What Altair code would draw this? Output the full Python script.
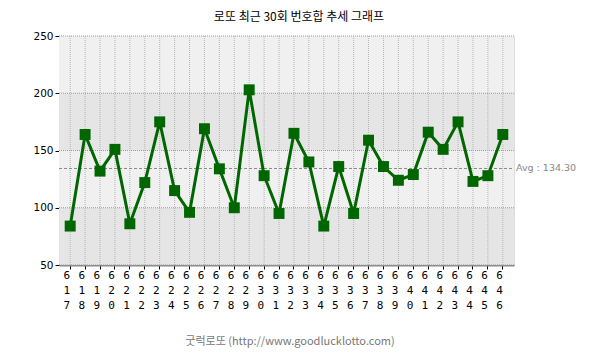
import altair as alt
import pandas as pd

rounds = [str(r) for r in range(617, 647)]
sums = [84, 164, 132, 151, 86, 122, 175, 115, 96, 169, 134, 100, 203, 128, 95,
        165, 140, 84, 136, 95, 159, 136, 124, 129, 166, 151, 175, 123, 128, 164]
band_lo = [200, 150, 100, 50]
band_hi = [250, 200, 150, 100]
band_col = ["#f0f0f0", "#e5e5e5", "#f0f0f0", "#e5e5e5"]
y_ticks = [50, 100, 150, 200, 250]
title_text = "로또 최근 30회 번호합 추세 그래프"
footer_text = "굿럭로또 (http://www.goodlucklotto.com)"

df = pd.DataFrame({"round": rounds, "sum": sums})
avg = sum(sums) / len(sums)
bands = pd.DataFrame({"lo": band_lo, "hi": band_hi, "c": band_col})
avg_df = pd.DataFrame({"avg": [avg], "label": [f"Avg : {avg:.2f}"]})
texts = pd.DataFrame({"t": [title_text, footer_text]})

yscale = alt.Scale(domain=[50, 250], nice=False, zero=False)
xscale = alt.Scale(domain=rounds, padding=0.5)

bg = alt.Chart(bands).mark_rect().encode(
    y=alt.Y("lo:Q", scale=yscale),
    y2="hi:Q",
    x=alt.value(0), x2=alt.value(455),
    color=alt.Color("c:N", scale=None),
)

hgrid = alt.Chart(pd.DataFrame({"v": y_ticks})).mark_rule(
    color="#999999", strokeDash=[1, 1], strokeWidth=1
).encode(y=alt.Y("v:Q", scale=yscale), x=alt.value(0), x2=alt.value(455))

vgrid = alt.Chart(df).mark_rule(
    color="#b4b4b4", strokeDash=[1, 1], strokeWidth=1
).encode(x=alt.X("round:O", scale=xscale), y=alt.value(0), y2=alt.value(229))

avg_rule = alt.Chart(avg_df).mark_rule(
    color="#888888", strokeDash=[3, 2], strokeWidth=1
).encode(y=alt.Y("avg:Q", scale=yscale), x=alt.value(0), x2=alt.value(455))

avg_text = alt.Chart(avg_df).mark_text(
    align="left", baseline="middle", dx=2, color="#888888",
    font="DejaVu Sans", fontSize=9.5
).encode(y=alt.Y("avg:Q", scale=yscale), x=alt.value(455), text="label:N")

title_mark = alt.Chart(texts).transform_filter(
    alt.datum.t == title_text
).mark_text(font="Noto Sans CJK KR", fontSize=12, color="#000000",
            align="center", baseline="middle").encode(
    x=alt.value(240), y=alt.value(-19), text="t:N")

footer_mark = alt.Chart(texts).transform_filter(
    alt.datum.t == footer_text
).mark_text(font="Noto Sans CJK KR", fontSize=11, color="#777777",
            align="center", baseline="middle").encode(
    x=alt.value(231), y=alt.value(306), text="t:N")

line = alt.Chart(df).mark_line(color="#006600", strokeWidth=3).encode(
    x=alt.X("round:O", scale=xscale,
            axis=alt.Axis(title=None,
                          labelAngle=0, labelExpr="split(datum.label, '')",
                          labelLineHeight=15, labelFont="DejaVu Sans Mono",
                          labelFontSize=11, labelColor="#000000",
                          labelPadding=6,
                          domainColor="#888888", domainWidth=2,
                          tickColor="#000000", tickSize=4, grid=False)),
    y=alt.Y("sum:Q", scale=yscale,
            axis=alt.Axis(title=None, values=y_ticks, labelFont="DejaVu Sans",
                          labelFontSize=10.5, labelColor="#000000",
                          domainColor="#000000", tickColor="#000000",
                          tickSize=4, grid=False, labelPadding=2)),
)

pts = alt.Chart(df).mark_square(color="#006600", size=120, opacity=1).encode(
    x=alt.X("round:O", scale=xscale),
    y=alt.Y("sum:Q", scale=yscale),
)

chart = alt.layer(bg, hgrid, vgrid, avg_rule, line, pts, avg_text,
                  title_mark, footer_mark).properties(
    width=455, height=229,
    autosize=alt.AutoSizeParams(type="none"),
    padding={"left": 51, "top": 28, "right": 78, "bottom": 83},
).configure_view(stroke=None).configure(background="#ffffff")

chart.save("out.html", embed_options={"renderer": "svg", "actions": False})
